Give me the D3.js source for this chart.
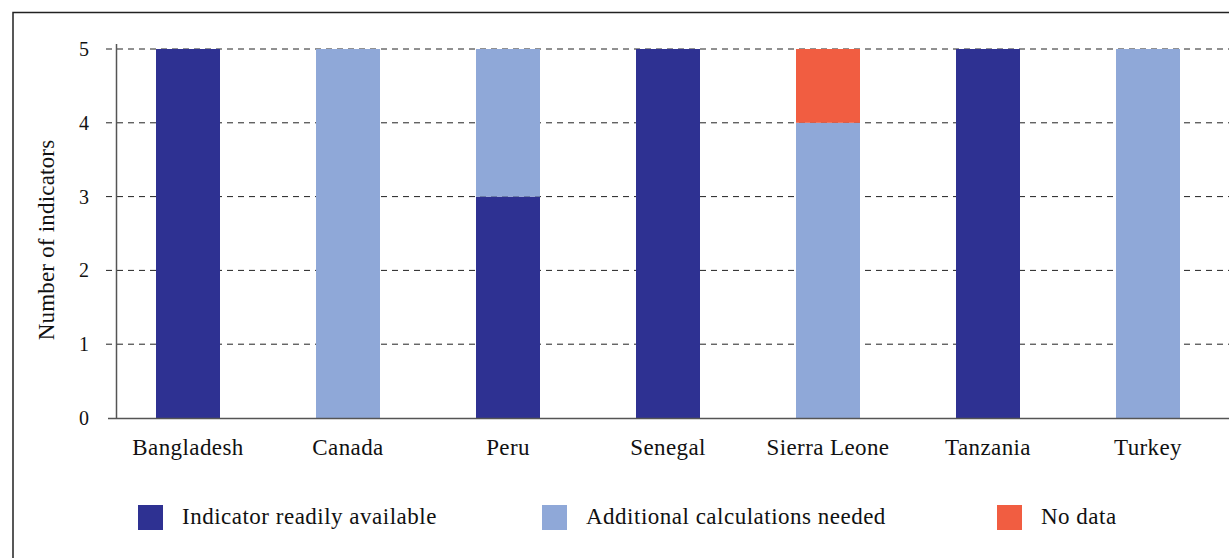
<!DOCTYPE html>
<html>
<head>
<meta charset="utf-8">
<script src="https://cdn.jsdelivr.net/npm/d3@7"></script>
<style>
  body { margin: 0; background: #fff; }
  svg { font-family: "Liberation Serif", "DejaVu Serif", serif; }
</style>
</head>
<body>
<div class="chart"></div>
<script>
// Stacked bar chart: indicator availability by country

var countries = ["Bangladesh", "Canada", "Peru", "Senegal", "Sierra Leone", "Tanzania", "Turkey"];
var readilyAvailable = [5, 0, 3, 5, 0, 5, 0];
var additionalCalcs = [0, 5, 2, 0, 4, 0, 5];
var noData = [0, 0, 0, 0, 1, 0, 0];
var seriesNames = ["Indicator readily available", "Additional calculations needed", "No data"];
var yTicks = [0, 1, 2, 3, 4, 5];

var colors = ["#2e3192", "#8fa8d8", "#f15d41"];

var svgWidth = 1229;
var svgHeight = 558;
var serif = "Liberation Serif";

var svg = d3.select(".chart")
  .append("svg")
  .attr("width", svgWidth)
  .attr("height", svgHeight);

// outer frame (open on right and bottom)
svg.append("path")
  .attr("d", "M13,558 L13,12.5 L1229,12.5")
  .attr("fill", "none")
  .attr("stroke", "#222")
  .attr("stroke-width", 1.5);

var table = countries.map(function(c, i) {
  return { country: c, s0: readilyAvailable[i], s1: additionalCalcs[i], s2: noData[i] };
});
var stack = d3.stack().keys(["s0", "s1", "s2"])(table);

var xScale = d3.scaleBand()
  .domain(countries)
  .range([108, 1228])
  .paddingInner(0.6)
  .paddingOuter(0.3);

var yScale = d3.scaleLinear()
  .domain([0, 5])
  .range([418, 49]);

// gridlines
svg.append("g")
  .selectAll("line")
  .data(yTicks.filter(d => d > 0))
  .enter()
  .append("line")
  .attr("x1", 106)
  .attr("x2", 1229)
  .attr("y1", d => yScale(d))
  .attr("y2", d => yScale(d))
  .attr("stroke", "#222")
  .attr("stroke-width", 1)
  .attr("stroke-dasharray", "6,5");

// bars
svg.append("g")
  .selectAll("g")
  .data(stack)
  .enter()
  .append("g")
  .attr("fill", (d, i) => colors[i])
  .selectAll("rect")
  .data(d => d)
  .enter()
  .append("rect")
  .attr("x", d => xScale(d.data.country))
  .attr("width", xScale.bandwidth())
  .attr("y", d => yScale(d[1]))
  .attr("height", d => yScale(d[0]) - yScale(d[1]));

// y axis
var leftAxis = d3.axisLeft(yScale)
  .tickValues(yTicks)
  .tickFormat(d3.format("d"))
  .tickSize(0)
  .tickPadding(27);
var yAxis = svg.append("g")
  .attr("transform", "translate(116,0)")
  .call(leftAxis)
  .attr("font-family", serif)
  .attr("font-size", 20);
yAxis.select(".domain").remove();
yAxis.selectAll("text").attr("fill", "#111");

svg.append("line")
  .attr("x1", 116.5).attr("x2", 116.5)
  .attr("y1", 44).attr("y2", 418)
  .attr("stroke", "#555").attr("stroke-width", 1.5);

// x axis
var bottomAxis = d3.axisBottom(xScale).tickSize(0).tickPadding(21);
var xAxis = svg.append("g")
  .attr("transform", "translate(0,418)")
  .call(bottomAxis)
  .attr("font-family", serif)
  .attr("font-size", 23);
xAxis.select(".domain").remove();
xAxis.selectAll("text")
  .attr("fill", "#111")
  .attr("letter-spacing", "0.4px");

svg.append("line")
  .attr("x1", 108).attr("x2", 1229)
  .attr("y1", 418.5).attr("y2", 418.5)
  .attr("stroke", "#555").attr("stroke-width", 1.5);

// y axis title
svg.append("text")
  .attr("transform", "translate(54,240)rotate(-90)")
  .attr("text-anchor", "middle")
  .attr("font-size", "23px")
  .attr("letter-spacing", "0.2px")
  .attr("fill", "#111")
  .text("Number of indicators");

// legend
var legendX = [138, 542, 997];
var legend = svg.append("g")
  .selectAll("g")
  .data(seriesNames)
  .enter()
  .append("g")
  .attr("transform", (d, i) => `translate(${legendX[i]},505)`);

legend.append("rect")
  .attr("width", 25)
  .attr("height", 25)
  .attr("fill", (d, i) => colors[i]);

legend.append("text")
  .attr("x", 44)
  .attr("y", 19)
  .attr("font-size", "23px")
  .attr("letter-spacing", "0.5px")
  .attr("fill", "#111")
  .text(d => d);
</script>
</body>
</html>
